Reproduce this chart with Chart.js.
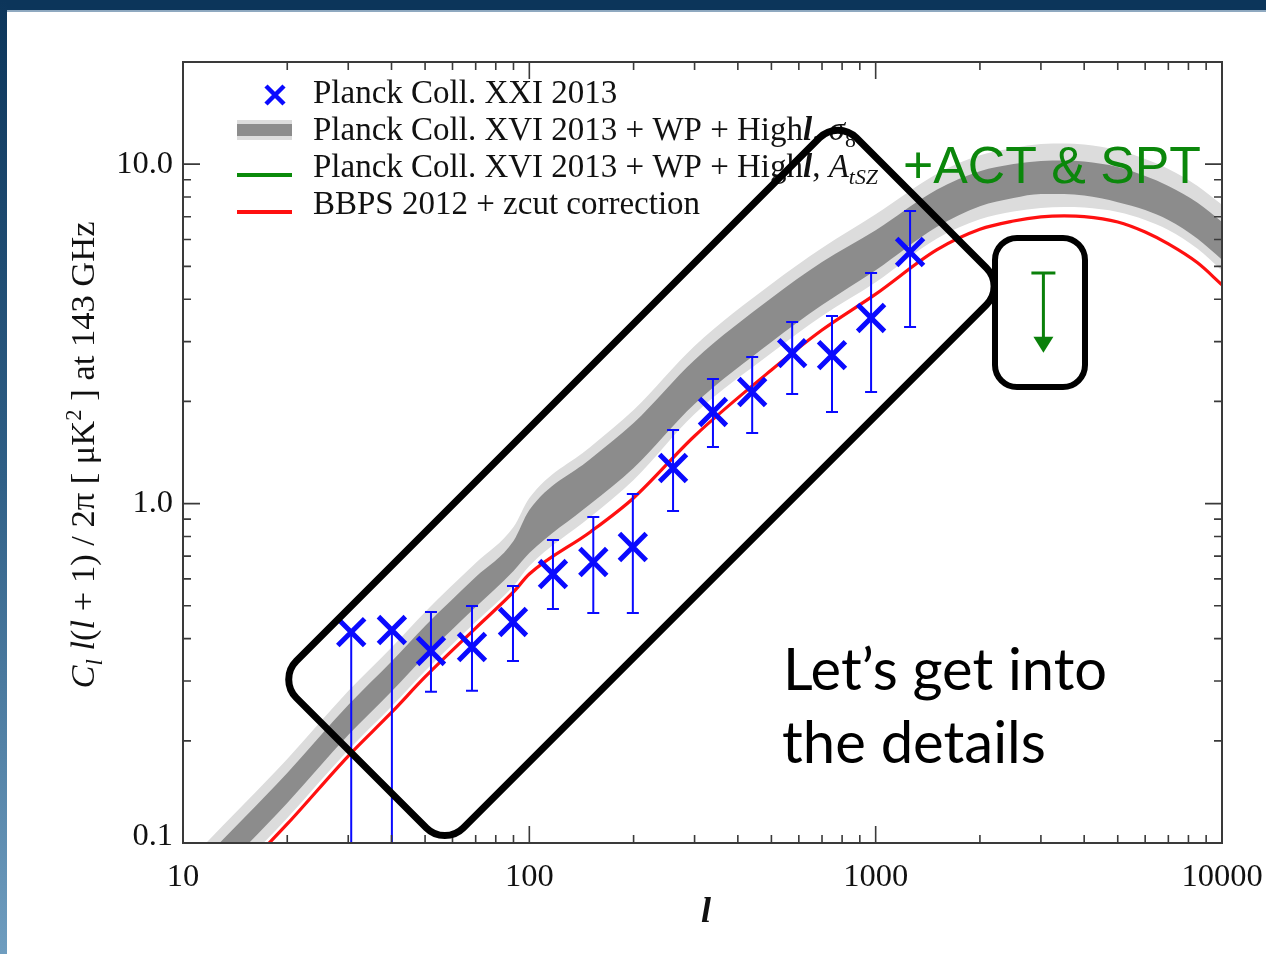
<!DOCTYPE html>
<html>
<head>
<meta charset="utf-8">
<script src="https://cdn.jsdelivr.net/npm/chart.js@4.4.1/dist/chart.umd.min.js"></script>
<style>
  html, body { margin: 0; padding: 0; background: #fff; }
  #wrap { width: 1266px; height: 954px; }
</style>
</head>
<body>
<div id="wrap"><canvas id="cl"></canvas></div>
<script>
// Planck tSZ band powers (l bins, value, error bar ends)
const ellBins  = [30.6, 40.1, 52.0, 68.3, 89.7, 117, 153, 199, 260, 339, 440, 574, 748, 970, 1257];
const tszPower = [0.418, 0.424, 0.368, 0.378, 0.448, 0.620, 0.673, 0.745, 1.273, 1.862, 2.132, 2.776, 2.738, 3.523, 5.511];
const tszUpper = [0.418, 0.424, 0.479, 0.499, 0.572, 0.781, 0.913, 1.067, 1.648, 2.329, 2.704, 3.428, 3.569, 4.78, 7.28];
const tszLower = [0.05, 0.05, 0.279, 0.281, 0.344, 0.489, 0.476, 0.476, 0.951, 1.468, 1.615, 2.102, 1.862, 2.132, 3.314];

// model curves sampled in l
const modelEll  = [11, 13, 15, 20, 30, 40, 50, 70, 90, 100, 150, 200, 300, 500, 700, 1000, 1500, 2000, 2500, 3000, 3500, 4000, 5000, 6000, 7000, 8500, 10000];
const bbps      = [0.0605, 0.0722, 0.0838, 0.1138, 0.1804, 0.2424, 0.3084, 0.4298, 0.549, 0.620, 0.825, 1.039, 1.582, 2.475, 3.245, 4.14, 5.59, 6.43, 6.80, 6.99, 7.04, 7.01, 6.755, 6.31, 5.82, 5.12, 4.41];
const s8OuterHi = [0.0940, 0.1122, 0.1302, 0.1768, 0.2803, 0.3767, 0.4793, 0.6679, 0.853, 1.039, 1.469, 1.887, 2.914, 4.435, 5.66, 7.12, 9.36, 10.62, 11.16, 11.47, 11.51, 11.43, 11.01, 10.35, 9.68, 8.63, 7.59];
const s8InnerHi = [0.0855, 0.1020, 0.1184, 0.1608, 0.2549, 0.3425, 0.4358, 0.6073, 0.776, 0.957, 1.354, 1.728, 2.650, 4.034, 5.15, 6.39, 8.40, 9.53, 10.01, 10.22, 10.26, 10.18, 9.81, 9.23, 8.63, 7.70, 6.76];
const s8InnerLo = [0.0698, 0.0832, 0.0966, 0.1312, 0.2080, 0.2795, 0.3556, 0.4956, 0.633, 0.715, 0.997, 1.274, 1.966, 2.992, 3.845, 4.87, 6.53, 7.52, 7.95, 8.17, 8.17, 8.08, 7.73, 7.33, 6.85, 6.03, 5.23];
const s8OuterLo = [0.0630, 0.0752, 0.0873, 0.1185, 0.1879, 0.2525, 0.3212, 0.4477, 0.572, 0.655, 0.913, 1.174, 1.837, 2.777, 3.57, 4.49, 6.03, 6.88, 7.25, 7.43, 7.48, 7.45, 7.23, 6.85, 6.40, 5.63, 4.85];

// ACT & SPT upper limit
const actEll = [3050];
const actTop = [4.78];
const actTip = [2.78];

// axis ticks
const xMajor = [10, 100, 1000, 10000];
const xLabels = ['10', '100', '1000', '10000'];
const xMinor = [20, 30, 40, 50, 60, 70, 80, 90, 200, 300, 400, 500, 600, 700, 800, 900, 2000, 3000, 4000, 5000, 6000, 7000, 8000, 9000];
const yMajor = [0.1, 1, 10];
const yLabels = ['0.1', '1.0', '10.0'];
const yMinor = [0.2, 0.3, 0.4, 0.5, 0.6, 0.7, 0.8, 0.9, 2, 3, 4, 5, 6, 7, 8, 9];

const SERIF = '"Liberation Serif", "Times New Roman", serif';
const BLUE = '#0a0aff';

function xy(xsArr, ysArr) {
    return xsArr.map((x, i) => ({ x: x, y: ysArr[i] }));
}

// draws a run of text pieces (italic / sub / sup) starting at x, returns end x
function drawRuns(ctx, runs, x, y, size) {
    runs.forEach(r => {
        const s = (r.sub || r.sup) ? size * 0.66 : size;
        ctx.font = (r.it ? 'italic ' : '') + (r.bold ? 'bold ' : '') + s + 'px ' + SERIF;
        const dy = r.sub ? size * 0.22 : (r.sup ? -size * 0.38 : 0);
        ctx.fillText(r.t, x, y + dy);
        x += ctx.measureText(r.t).width;
    });
    return x;
}
function runsWidth(ctx, runs, size) {
    let w = 0;
    runs.forEach(r => {
        const s = (r.sub || r.sup) ? size * 0.66 : size;
        ctx.font = (r.it ? 'italic ' : '') + (r.bold ? 'bold ' : '') + s + 'px ' + SERIF;
        w += ctx.measureText(r.t).width;
    });
    return w;
}

function roundedPath(ctx, x, y, w, h, r) {
    ctx.beginPath();
    ctx.moveTo(x + r, y);
    ctx.lineTo(x + w - r, y);
    ctx.arcTo(x + w, y, x + w, y + r, r);
    ctx.lineTo(x + w, y + h - r);
    ctx.arcTo(x + w, y + h, x + w - r, y + h, r);
    ctx.lineTo(x + r, y + h);
    ctx.arcTo(x, y + h, x, y + h - r, r);
    ctx.lineTo(x, y + r);
    ctx.arcTo(x, y, x + r, y, r);
    ctx.closePath();
}

const slidePlugin = {
    id: 'slide',
    beforeDraw(chart) {
        const ctx = chart.ctx;
        ctx.save();
        ctx.fillStyle = '#ffffff';
        ctx.fillRect(0, 0, chart.width, chart.height);
        // slide template: top bar and left strip
        ctx.fillStyle = '#0c355a';
        ctx.fillRect(0, 0, chart.width, 10);
        ctx.fillStyle = '#8fa9c0';
        ctx.fillRect(0, 10, chart.width, 2);
        const g = ctx.createLinearGradient(0, 0, 0, chart.height);
        g.addColorStop(0, '#0c355a');
        g.addColorStop(0.5, '#2f5f86');
        g.addColorStop(1, '#6f9dbf');
        ctx.fillStyle = g;
        ctx.fillRect(0, 0, 7, chart.height);
        ctx.restore();
    },
    beforeDatasetDraw(chart, args) {
        if (args.index !== 0) return;
        // error bars under the crosses
        const ctx = chart.ctx, xs = chart.scales.x, ys = chart.scales.y, a = chart.chartArea;
        ctx.save();
        ctx.beginPath();
        ctx.rect(a.left, a.top, a.right - a.left, a.bottom - a.top);
        ctx.clip();
        ctx.strokeStyle = BLUE;
        ctx.lineWidth = 2;
        ellBins.forEach((l, i) => {
            const px = xs.getPixelForValue(l);
            const yHi = ys.getPixelForValue(tszUpper[i]);
            const yLo = Math.min(ys.getPixelForValue(tszLower[i]), a.bottom);
            ctx.beginPath();
            ctx.moveTo(px, yHi);
            ctx.lineTo(px, yLo);
            ctx.moveTo(px - 6, yLo);
            ctx.lineTo(px + 6, yLo);
            if (tszUpper[i] > tszPower[i]) {
                ctx.moveTo(px - 6, yHi);
                ctx.lineTo(px + 6, yHi);
            }
            ctx.stroke();
        });
        ctx.restore();
    },
    afterDraw(chart) {
        const ctx = chart.ctx, xs = chart.scales.x, ys = chart.scales.y, a = chart.chartArea;
        ctx.save();

        // frame and inward ticks on all four sides
        ctx.strokeStyle = '#3a3a3a';
        ctx.lineWidth = 2;
        ctx.strokeRect(a.left, a.top, a.right - a.left, a.bottom - a.top);
        ctx.lineWidth = 1.6;
        ctx.beginPath();
        const xt = (v, len) => {
            const p = xs.getPixelForValue(v);
            ctx.moveTo(p, a.bottom); ctx.lineTo(p, a.bottom - len);
            ctx.moveTo(p, a.top); ctx.lineTo(p, a.top + len);
        };
        const yt = (v, len) => {
            const p = ys.getPixelForValue(v);
            ctx.moveTo(a.left, p); ctx.lineTo(a.left + len, p);
            ctx.moveTo(a.right, p); ctx.lineTo(a.right - len, p);
        };
        xMajor.forEach(v => xt(v, 17));
        xMinor.forEach(v => xt(v, 8));
        yMajor.forEach(v => yt(v, 17));
        yMinor.forEach(v => yt(v, 8));
        ctx.stroke();

        // tick labels
        ctx.fillStyle = '#111';
        ctx.font = '32.5px ' + SERIF;
        ctx.textAlign = 'center';
        ctx.textBaseline = 'middle';
        xMajor.forEach((v, i) => {
            ctx.fillText(xLabels[i], xs.getPixelForValue(v), a.bottom + 34);
        });
        ctx.textAlign = 'right';
        yMajor.forEach((v, i) => {
            let p = ys.getPixelForValue(v);
            if (i === 0) p -= 7;
            ctx.fillText(yLabels[i], a.left - 10, p);
        });

        // axis titles
        ctx.textAlign = 'left';
        ctx.textBaseline = 'alphabetic';
        ctx.font = 'italic bold 36px ' + SERIF;
        ctx.fillText('l', 701, 922);

        const yTitle = [
            { t: 'C', it: true }, { t: 'l', it: true, sub: true }, { t: ' ' },
            { t: 'l', it: true }, { t: '(' }, { t: 'l', it: true },
            { t: ' + 1) / 2π [ μK' }, { t: '2', sup: true }, { t: ' ] at 143 GHz' }
        ];
        ctx.save();
        ctx.translate(94, 455);
        ctx.rotate(-Math.PI / 2);
        const tw = runsWidth(ctx, yTitle, 34.5);
        drawRuns(ctx, yTitle, -tw / 2, 0, 34.5);
        ctx.restore();

        // legend
        const lx = 237, tx = 313;
        ctx.strokeStyle = BLUE;
        ctx.lineWidth = 4.5;
        ctx.beginPath();
        ctx.moveTo(266, 86); ctx.lineTo(284, 104);
        ctx.moveTo(284, 86); ctx.lineTo(266, 104);
        ctx.stroke();
        ctx.fillStyle = '#dcdcdc';
        ctx.fillRect(lx, 120, 55, 20);
        ctx.fillStyle = '#8c8c8c';
        ctx.fillRect(lx, 124, 55, 12);
        ctx.lineWidth = 4;
        ctx.strokeStyle = '#0a8a0a';
        ctx.beginPath(); ctx.moveTo(lx, 175); ctx.lineTo(lx + 55, 175); ctx.stroke();
        ctx.strokeStyle = '#ff1010';
        ctx.beginPath(); ctx.moveTo(lx, 212); ctx.lineTo(lx + 55, 212); ctx.stroke();

        ctx.fillStyle = '#111';
        const LS = 33;
        drawRuns(ctx, [{ t: 'Planck Coll. XXI 2013' }], tx, 103, LS);
        drawRuns(ctx, [{ t: 'Planck Coll. XVI 2013 + WP + High' }, { t: 'l', it: true, bold: true },
            { t: ', ' }, { t: 'σ', it: true }, { t: '8', sub: true }], tx, 140, LS);
        drawRuns(ctx, [{ t: 'Planck Coll. XVI 2013 + WP + High' }, { t: 'l', it: true, bold: true },
            { t: ', ' }, { t: 'A', it: true }, { t: 'tSZ', it: true, sub: true }], tx, 177, LS);
        drawRuns(ctx, [{ t: 'BBPS 2012 + zcut correction' }], tx, 214, LS);

        // ACT & SPT upper limit arrow
        ctx.strokeStyle = '#0a800a';
        ctx.fillStyle = '#0a800a';
        ctx.lineWidth = 3;
        actEll.forEach((l, i) => {
            const px = xs.getPixelForValue(l);
            const y0 = ys.getPixelForValue(actTop[i]);
            const y1 = ys.getPixelForValue(actTip[i]);
            ctx.beginPath();
            ctx.moveTo(px - 12, y0); ctx.lineTo(px + 12, y0);
            ctx.moveTo(px, y0); ctx.lineTo(px, y1 - 14);
            ctx.stroke();
            ctx.beginPath();
            ctx.moveTo(px - 10, y1 - 16); ctx.lineTo(px + 10, y1 - 16); ctx.lineTo(px, y1);
            ctx.closePath();
            ctx.fill();
        });

        ctx.font = '52px "Liberation Sans", Arial, sans-serif';
        ctx.fillStyle = '#0b870b';
        ctx.fillText('+ACT & SPT', 903, 183, 298);

        // highlight boxes
        ctx.strokeStyle = '#000';
        ctx.lineWidth = 7;
        ctx.save();
        ctx.translate(641.4, 482.9);
        ctx.rotate(-Math.PI / 4);
        roundedPath(ctx, -396, -118, 792, 236, 26);
        ctx.stroke();
        ctx.restore();
        ctx.lineWidth = 6;
        roundedPath(ctx, 995, 238, 90, 149, 22);
        ctx.stroke();

        // slide caption
        ctx.fillStyle = '#000';
        ctx.font = '58px Lato, "Open Sans", sans-serif';
        ctx.fillText('Let\u2019s get into', 783, 690, 324);
        ctx.fillText('the details', 782, 763, 274);

        ctx.restore();
    }
};

const ctx = document.getElementById('cl');
new Chart(ctx, {
    type: 'line',
    data: {
        datasets: [
            {
                label: 'Planck Coll. XXI 2013',
                data: xy(ellBins, tszPower),
                showLine: false,
                pointStyle: 'crossRot',
                pointRadius: 19,
                pointBorderWidth: 5,
                borderColor: BLUE,
                backgroundColor: BLUE
            },
            {
                label: 'BBPS 2012 + zcut correction',
                data: xy(modelEll, bbps),
                borderColor: '#ff1010',
                borderWidth: 3.2,
                pointRadius: 0,
                cubicInterpolationMode: 'monotone',
                fill: false
            },
            {
                label: 'sigma8 inner hi',
                data: xy(modelEll, s8InnerHi),
                borderWidth: 0,
                pointRadius: 0,
                cubicInterpolationMode: 'monotone',
                backgroundColor: '#8c8c8c',
                fill: '+1'
            },
            {
                label: 'sigma8 inner lo',
                data: xy(modelEll, s8InnerLo),
                borderWidth: 0,
                pointRadius: 0,
                cubicInterpolationMode: 'monotone',
                fill: false
            },
            {
                label: 'sigma8 outer hi',
                data: xy(modelEll, s8OuterHi),
                borderWidth: 0,
                pointRadius: 0,
                cubicInterpolationMode: 'monotone',
                backgroundColor: '#dcdcdc',
                fill: '+1'
            },
            {
                label: 'sigma8 outer lo',
                data: xy(modelEll, s8OuterLo),
                borderWidth: 0,
                pointRadius: 0,
                cubicInterpolationMode: 'monotone',
                fill: false
            }
        ]
    },
    options: {
        responsive: true,
        maintainAspectRatio: false,
        animation: false,
        layout: { padding: { left: 183, right: 44, top: 62, bottom: 111 } },
        scales: {
            x: { type: 'logarithmic', min: 10, max: 10000, display: false },
            y: { type: 'logarithmic', min: 0.1, max: 20, display: false }
        },
        plugins: {
            legend: { display: false },
            tooltip: { enabled: false }
        }
    },
    plugins: [slidePlugin]
});
</script>
</body>
</html>
